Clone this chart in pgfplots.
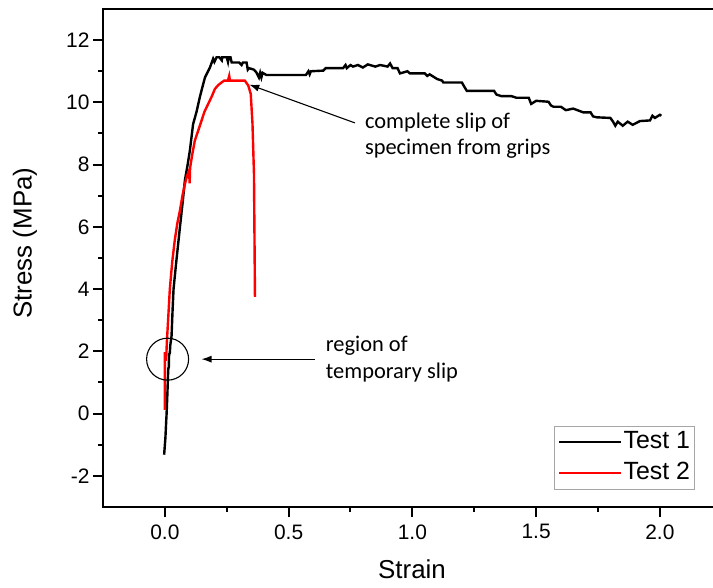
\documentclass[border=0pt]{standalone}
\usepackage{fontspec}
\setmainfont{Liberation Sans}
\newfontfamily\calfont{Carlito}
\usepackage{pgfplots}
\pgfplotsset{compat=1.18}
\usetikzlibrary{arrows.meta}
\begin{document}
\begin{tikzpicture}
\path[use as bounding box] (-103bp,-81bp) rectangle (610bp,507bp);
\begin{axis}[
  at={(0,0)}, anchor=south west,
  scale only axis, width=625bp, height=498bp,
  xmin=-0.25, xmax=2.2753, ymin=-3, ymax=13,
  axis line style={line width=2.2bp, black},
  every outer x axis line/.append style={line width=2.2bp},
  every outer y axis line/.append style={line width=2.2bp},
  xtick={0,0.5,1,1.5,2}, xticklabels={0.0,0.5,1.0,1.5,2.0},
  ytick={-2,0,2,4,6,8,10,12}, yticklabels={-2,0,2,4,6,8,10,12},
  minor x tick num=1, minor y tick num=1,
  xtick pos=bottom, ytick pos=left,
  tick align=outside,
  major tick length=10bp, minor tick length=5bp,
  major tick style={line width=2bp, black},
  minor tick style={line width=2bp, black},
  tick label style={font=\fontsize{21}{25}\selectfont},
  xticklabel style={yshift=-4bp},
  xlabel={Strain}, ylabel={Stress (MPa)},
  label style={font=\fontsize{26}{30}\selectfont},
  xlabel style={at={(axis description cs:0.4944,-0.1426)}, anchor=base},
  ylabel style={at={(axis description cs:-0.1248,0.53)}, anchor=center},
  legend style={at={(axis cs:2.142,-2.44)}, anchor=south east, draw=gray!70, line width=1bp,
    font=\fontsize{25}{28}\selectfont, inner xsep=3bp, inner ysep=3bp,
    nodes={inner sep=1.5bp, text height=18bp, text depth=5bp},
    row sep=5bp},
  legend cell align=left,
  legend image code/.code={\draw[#1, line width=2.5bp] (0bp,0bp) -- (62bp,0bp);},
]
\addplot[black, line width=2.4bp] coordinates {
(-0.003,-1.32)(0.002,-0.8)(0.005,-0.3)(0.007,0.0)(0.010,0.6)(0.013,1.3)(0.014,1.45)
(0.016,1.5)(0.017,1.9)(0.020,1.95)(0.022,2.2)(0.027,2.5)(0.031,3.3)(0.035,4.0)
(0.045,4.8)(0.061,6.0)(0.072,6.8)(0.081,7.5)(0.092,8.0)(0.101,8.45)(0.114,9.3)
(0.128,9.7)(0.141,10.16)(0.152,10.5)(0.162,10.8)(0.182,11.12)(0.195,11.4)(0.200,11.3)
(0.209,11.45)(0.22,11.45)(0.23,11.35)(0.232,11.45)(0.25,11.45)(0.255,11.3)(0.258,11.45)
(0.265,11.45)(0.27,11.28)(0.30,11.28)(0.31,11.2)(0.315,11.28)(0.33,11.28)(0.335,11.05)
(0.34,11.1)(0.36,11.05)(0.37,10.96)(0.38,10.8)(0.385,10.95)(0.39,10.8)(0.395,10.95)
(0.41,10.88)(0.57,10.88)(0.58,11.0)(0.585,10.9)(0.59,11.0)(0.64,11.02)(0.65,11.1)
(0.72,11.1)(0.73,11.2)(0.735,11.1)(0.75,11.2)(0.76,11.15)(0.78,11.2)(0.8,11.12)
(0.82,11.22)(0.85,11.15)(0.87,11.2)(0.9,11.15)(0.91,11.25)(0.92,11.1)(0.94,11.1)
(0.95,10.93)(0.98,11.0)(0.99,10.93)(1.05,10.93)(1.06,10.85)(1.07,10.9)(1.09,10.8)
(1.1,10.75)(1.12,10.7)(1.125,10.64)(1.2,10.64)(1.21,10.5)(1.22,10.37)(1.33,10.37)
(1.34,10.25)(1.36,10.2)(1.4,10.2)(1.42,10.15)(1.47,10.15)(1.475,10.05)(1.48,9.95)
(1.5,10.05)(1.55,10.02)(1.56,9.9)(1.57,9.86)(1.6,9.86)(1.62,9.75)(1.65,9.8)(1.69,9.68)
(1.72,9.68)(1.73,9.55)(1.745,9.52)(1.8,9.5)(1.81,9.39)(1.82,9.25)(1.83,9.38)(1.85,9.25)
(1.87,9.38)(1.89,9.28)(1.92,9.4)(1.96,9.42)(1.97,9.57)(1.98,9.5)(2.0,9.6)(2.006,9.57)
};
\addlegendentry{Test 1}
\addplot[red, line width=2.4bp] coordinates {
(0.0,0.12)(0.0,1.94)(0.003,1.94)(0.005,1.7)(0.008,2.3)(0.013,3.0)(0.02,4.0)(0.03,4.9)
(0.040,5.57)(0.05,6.1)(0.061,6.53)(0.071,7.0)(0.081,7.38)(0.09,7.65)(0.098,7.81)
(0.10,7.4)(0.102,7.9)(0.11,8.3)(0.121,8.77)(0.135,9.1)(0.148,9.41)(0.16,9.7)
(0.175,9.95)(0.19,10.2)(0.202,10.43)(0.215,10.55)(0.229,10.64)(0.24,10.7)(0.255,10.7)
(0.26,10.85)(0.263,10.7)(0.323,10.7)(0.337,10.54)(0.347,10.27)(0.354,9.31)(0.360,7.7)
(0.364,3.75)
};
\addlegendentry{Test 2}
\draw[line width=1.1bp, -{Latex[length=10bp,width=7bp]}] (axis cs:0.768,9.34) -- (axis cs:0.341,10.57);
\draw[line width=1.1bp, -{Latex[length=10bp,width=7bp]}] (axis cs:0.606,1.75) -- (axis cs:0.148,1.75);
\draw[line width=1.1bp] (axis cs:0.011,1.75) circle[radius=21bp];
\node[anchor=base west, inner sep=0pt, font=\calfont\fontsize{22.5}{27}\selectfont] at (axis cs:0.808,9.157) {complete slip of};
\node[anchor=base west, inner sep=0pt, font=\calfont\fontsize{22.5}{27}\selectfont] at (axis cs:0.808,8.31) {specimen from grips};
\node[anchor=base west, inner sep=0pt, font=\calfont\fontsize{22.5}{27}\selectfont] at (axis cs:0.650,1.98) {region of};
\node[anchor=base west, inner sep=0pt, font=\calfont\fontsize{22.5}{27}\selectfont] at (axis cs:0.650,1.14) {temporary slip};
\end{axis}
\end{tikzpicture}
\end{document}
